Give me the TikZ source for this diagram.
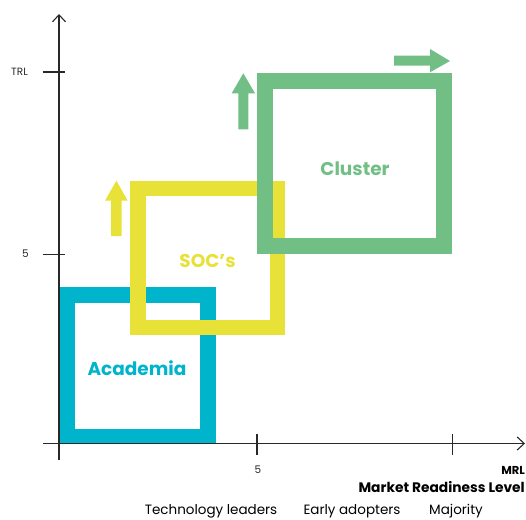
\documentclass[tikz,border=0pt]{standalone}
\usepackage{fontspec}
\setmainfont{Poppins}
\usetikzlibrary{arrows.meta}
\definecolor{acad}{RGB}{0,180,204}
\definecolor{soc}{RGB}{232,225,56}
\definecolor{clus}{RGB}{114,191,133}
\definecolor{axisgray}{RGB}{40,40,40}
\tikzset{
  frame/.style={draw, line width=15.5pt, rectangle, inner sep=0pt},
  framelabel/.style={inner sep=0pt, font=\bfseries\fontsize{18.5}{20}\selectfont},
  axisline/.style={draw=axisgray, line width=1.1pt},
  axistip/.style={-{Straight Barb[length=7pt,width=13pt,line width=1.1pt]}},
  ticklabel/.style={font=\fontsize{10.5}{12}\selectfont, text=axisgray, inner sep=0pt},
  bottomlabel/.style={font=\fontsize{13.5}{15}\selectfont, text=black, inner sep=0pt},
}
\begin{document}
\begin{tikzpicture}[x=1pt,y=-1pt]
\useasboundingbox (0,0) rectangle (526,519);

% three overlapping stages
\node[frame, draw=acad, minimum width=141.4pt, minimum height=141.7pt] (academia) at (137.5,365.7) {};
\node[frame, draw=soc, minimum width=139.5pt, minimum height=138.8pt] (socs) at (207.5,257.9) {};
\node[frame, draw=clus, line width=16pt, minimum width=179.6pt, minimum height=165pt] (cluster) at (354.5,163.8) {};

\node[framelabel, text=acad] (academialbl) at ([shift={(-0.5,2)}]academia.center) {Academia};
\node[framelabel, text=soc] (socslbl) at ([shift={(0,3)}]socs.center) {SOC’s};
\node[framelabel, text=clus] (clusterlbl) at ([shift={(0.5,4.5)}]cluster.center) {Cluster};

% block arrows
\fill[soc] (111,236) -- (111,200.7) -- (105,200.7) -- (116.4,180.7) -- (127.7,200.7) -- (121.7,200.7) -- (121.7,236) -- cycle;
\fill[clus] (238.3,129.3) -- (238.3,93.3) -- (231.7,93.3) -- (243.3,73.3) -- (255,93.3) -- (248.3,93.3) -- (248.3,129.3) -- cycle;
\fill[clus] (394,55.7) -- (430,55.7) -- (430,49) -- (450,61) -- (430,72.3) -- (430,65.7) -- (394,65.7) -- cycle;

% axes
\coordinate (ybot) at (59,460);
\coordinate (ytop) at (59,14);
\coordinate (xleft) at (43,443.5);
\coordinate (xright) at (525,443.5);
\draw[axisline, axistip] (ybot) -- (ytop);
\draw[axisline, axistip] (xleft) -- (xright);

% ticks
\coordinate (t1a) at (42.5,72); \coordinate (t1b) at (64.5,72);
\coordinate (t2a) at (42.5,254.3); \coordinate (t2b) at (64.5,254.3);
\coordinate (t3a) at (257,434); \coordinate (t3b) at (257,455);
\coordinate (t4a) at (452.5,434); \coordinate (t4b) at (452.5,455);
\draw[axisline] (t1a) -- (t1b);
\draw[axisline] (t2a) -- (t2b);
\draw[axisline] (t3a) -- (t3b);
\draw[axisline] (t4a) -- (t4b);

% tick labels
\node[ticklabel] (trl) at (19.5,72) {TRL};
\node[ticklabel] (fivey) at (25.5,254) {5};
\node[ticklabel] (fivex) at (258,470) {5};
\node[ticklabel, anchor=east, font=\bfseries\fontsize{11.5}{13}\selectfont, text=black] (mrl) at (525,470) {MRL};
\node[bottomlabel, anchor=east, font=\bfseries\fontsize{13.8}{15}\selectfont] (mrlfull) at (525,487.5) {Market Readiness Level};

% adoption groups
\node[bottomlabel] (leaders) at (211,511) {Technology leaders};
\node[bottomlabel] (early) at (352,511) {Early adopters};
\node[bottomlabel] (majority) at (456,511) {Majority};
\end{tikzpicture}
\end{document}
